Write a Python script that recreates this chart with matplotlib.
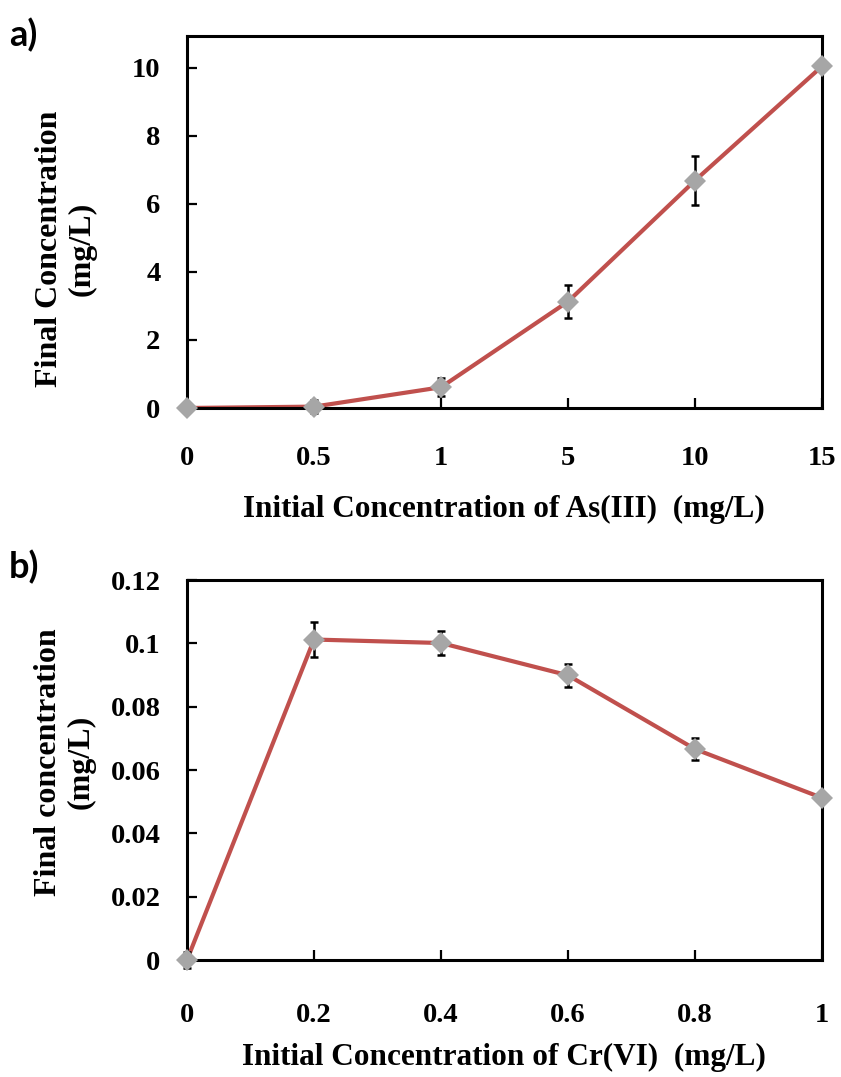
import matplotlib
matplotlib.use('Agg')
import matplotlib.pyplot as plt

'''
Two stacked line graphs of final vs initial concentration (As(III) and Cr(VI)).
'''

# panel a) - As(III), categories are evenly spaced
as_labels = ['0', '0.5', '1', '5', '10', '15']
as_final = [0.0, 0.04, 0.61, 3.13, 6.69, 10.05]
as_err = [0.0, 0.2, 0.27, 0.48, 0.71, 0.0]
as_yticks = [0, 2, 4, 6, 8, 10]

# panel b) - Cr(VI)
cr_initial = [0.0, 0.2, 0.4, 0.6, 0.8, 1.0]
cr_final = [0.0, 0.1012, 0.1001, 0.0899, 0.0666, 0.0512]
cr_err = [0.0025, 0.0054, 0.0038, 0.0036, 0.0034, 0.0]
cr_yticks = [0, 0.02, 0.04, 0.06, 0.08, 0.1, 0.12]
cr_ylabels = ['0', '0.02', '0.04', '0.06', '0.08', '0.1', '0.12']
cr_xlabels = ['0', '0.2', '0.4', '0.6', '0.8', '1']

W, H = 841, 1077
serif = 'Liberation Serif'
red = '#C0504D'
grey = '#A6A6A6'


def style_axes(ax, xpad=27, fontsize=20.5):
    '''
    Box frame, inward ticks on bottom/left only, bold serif tick labels.
    '''
    for s in ax.spines.values():
        s.set_linewidth(2.2)
    ax.tick_params(axis='x', direction='in', length=7, width=1.6, pad=xpad,
                   top=False, labelsize=fontsize)
    ax.tick_params(axis='y', direction='in', length=7, width=1.6, pad=19,
                   right=False, labelsize=fontsize)
    for lab in ax.get_xticklabels() + ax.get_yticklabels():
        lab.set_fontfamily(serif)
        lab.set_fontweight('bold')


def draw_series(ax, x, y, err):
    '''
    Red line with grey diamonds and black error bars.
    '''
    ax.plot(x, y, color=red, lw=3, zorder=2, clip_on=False)
    ax.errorbar(x, y, yerr=err, fmt='none', ecolor='black', elinewidth=1.8,
                capsize=3, capthick=1.8, zorder=3, clip_on=False)
    ax.plot(x, y, linestyle='none', marker='D', ms=11.5, color=grey,
            markeredgewidth=0, zorder=4, clip_on=False)


fig = plt.figure(figsize=(W / 100, H / 100), dpi=100, facecolor='white')

# top panel
ax1 = fig.add_axes([187 / W, 1 - 408 / H, 635 / W, 372 / H])
pos = list(range(len(as_labels)))
draw_series(ax1, pos, as_final, as_err)
ax1.set_xlim(0, len(as_labels) - 1)
ax1.set_ylim(0, 10.94)
ax1.set_xticks(pos)
ax1.set_xticklabels(as_labels)
ax1.set_yticks(as_yticks)
style_axes(ax1, xpad=27)

# bottom panel
ax2 = fig.add_axes([187 / W, 1 - 960 / H, 635 / W, 380 / H])
draw_series(ax2, cr_initial, cr_final, cr_err)
ax2.set_xlim(0, 1)
ax2.set_ylim(0, 0.12)
ax2.set_xticks(cr_initial)
ax2.set_xticklabels(cr_xlabels)
ax2.set_yticks(cr_yticks)
ax2.set_yticklabels(cr_ylabels)
style_axes(ax2, xpad=31)

# axis titles
lab = dict(family=serif, fontweight='bold', fontsize=22.5)
fig.text(504 / W, 1 - 509 / H, 'Initial Concentration of As(III)  (mg/L)',
         ha='center', va='center', **lab)
fig.text(504 / W, 1 - 1057 / H, 'Initial Concentration of Cr(VI)  (mg/L)',
         ha='center', va='center', **lab)
ylab = dict(family=serif, fontweight='bold', fontsize=23, rotation=90,
            ha='center', va='center', multialignment='center', linespacing=1.15)
fig.text(66 / W, 1 - 249 / H, 'Final Concentration\n(mg/L)', **ylab)
fig.text(65 / W, 1 - 762 / H, 'Final concentration\n(mg/L)', **ylab)

# panel letters
fig.text(9 / W, 1 - 35 / H, 'a)', family='Lato', fontweight='bold',
         fontsize=26, ha='left', va='center')
fig.text(9 / W, 1 - 567 / H, 'b)', family='Lato', fontweight='bold',
         fontsize=26, ha='left', va='center')

fig.savefig('out.png', dpi=100, facecolor='white')
